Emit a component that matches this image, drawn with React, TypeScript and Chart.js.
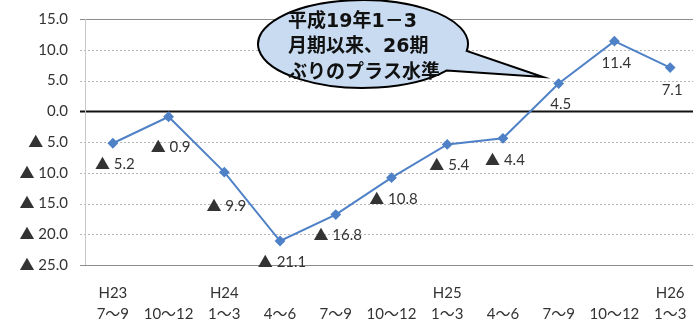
import React, { useEffect, useRef } from "react";
import { Chart, registerables } from "chart.js";

Chart.register(...registerables);

// Quarter labels: [fiscal year marker, months]
const yearMarks = ["H23", "", "H24", "", "", "", "H25", "", "", "", "H26"];
const quarters = ["7～9", "10～12", "1～3", "4～6", "7～9", "10～12", "1～3", "4～6", "7～9", "10～12", "1～3"];
// Year-on-year change (%)
const values = [-5.2, -0.9, -9.9, -21.1, -16.8, -10.8, -5.4, -4.4, 4.5, 11.4, 7.1];
const yTicks = [15, 10, 5, 0, -5, -10, -15, -20, -25];
const calloutLines = ["平成19年1－3", "月期以来、26期", "ぶりのプラス水準"];

// extra drop (px) applied to a few value labels so they clear the line
const labelDrop = [21, 30, 34, 21, 21, 21, 21, 22, 21, 22, 23];

const LATIN = "Lato, 'Noto Sans CJK JP', sans-serif";

const fmt = (v: number) => (v < 0 ? "▲ " + Math.abs(v).toFixed(1) : v.toFixed(1));

const gridPlugin = {
  id: "customGrid",
  beforeDatasetsDraw(chart: any) {
    const { ctx, chartArea } = chart;
    const y = chart.scales.y;
    ctx.save();
    for (const v of yTicks) {
      const py = Math.round(y.getPixelForValue(v)) + 0.5;
      ctx.beginPath();
      if (v === 0) {
        ctx.strokeStyle = "#111";
        ctx.lineWidth = 2;
        ctx.setLineDash([]);
      } else if (v === yTicks[0] || v === yTicks[yTicks.length - 1]) {
        ctx.strokeStyle = "#8c8c8c";
        ctx.lineWidth = 1;
        ctx.setLineDash([]);
      } else {
        ctx.strokeStyle = "#b5b5b5";
        ctx.lineWidth = 1;
        ctx.setLineDash([2, 2]);
      }
      ctx.moveTo(chartArea.left - 5, py);
      ctx.lineTo(chartArea.right, py);
      ctx.stroke();
    }
    ctx.setLineDash([]);
    ctx.strokeStyle = "#c8c8c8";
    ctx.lineWidth = 1;
    ctx.beginPath();
    ctx.moveTo(chartArea.left + 0.5, chartArea.top);
    ctx.lineTo(chartArea.left + 0.5, chartArea.bottom);
    ctx.stroke();
    ctx.restore();
  },
};

const valueLabelPlugin = {
  id: "valueLabels",
  afterDatasetsDraw(chart: any) {
    const { ctx } = chart;
    const meta = chart.getDatasetMeta(0);
    ctx.save();
    ctx.font = `15px ${LATIN}`;
    ctx.fillStyle = "#333";
    ctx.textAlign = "center";
    ctx.textBaseline = "middle";
    meta.data.forEach((pt: any, i: number) => {
      ctx.fillText(fmt(values[i]), pt.x + 2, pt.y + labelDrop[i]);
    });
    ctx.restore();
  },
};

const calloutPlugin = {
  id: "callout",
  afterDraw(chart: any) {
    const { ctx } = chart;
    const cx = 363, cy = 44, rx = 105, ry = 44;
    const tA = 0.646, tB = 0.16;
    ctx.save();
    ctx.beginPath();
    ctx.ellipse(cx, cy, rx, ry, 0, tA, tB + Math.PI * 2, false);
    ctx.lineTo(543, 77);
    ctx.closePath();
    ctx.fillStyle = "#c9dbf1";
    ctx.fill();
    ctx.strokeStyle = "#000";
    ctx.lineWidth = 2;
    ctx.lineJoin = "miter";
    ctx.stroke();
    ctx.fillStyle = "#111";
    ctx.font = "bold 19px 'DejaVu Sans', 'Noto Sans CJK JP', sans-serif";
    ctx.textAlign = "left";
    ctx.textBaseline = "middle";
    calloutLines.forEach((line, i) => {
      ctx.fillText(line, 288, 22 + i * 25.5);
    });
    ctx.restore();
  },
};

export default function App() {
  const ref = useRef<HTMLCanvasElement>(null);

  useEffect(() => {
    if (!ref.current) return;
    const chart = new Chart(ref.current, {
      type: "line",
      data: {
        labels: quarters.map((q, i) => [yearMarks[i], q]),
        datasets: [
          {
            data: values,
            borderColor: "#4f81c7",
            backgroundColor: "#4f81c7",
            borderWidth: 2,
            pointStyle: "rectRot",
            pointRadius: 4,
            pointHoverRadius: 4,
            tension: 0,
          },
        ],
      },
      options: {
        responsive: false,
        animation: false,
        layout: { padding: { top: 19, left: 0, right: 0, bottom: 0 } },
        plugins: { legend: { display: false }, tooltip: { enabled: false } },
        scales: {
          x: {
            offset: true,
            grid: { display: false, drawTicks: false },
            border: { display: false },
            ticks: {
              color: "#333",
              font: { family: LATIN, size: 15, lineHeight: 1.45 },
              padding: 17,
              maxRotation: 0,
              autoSkip: false,
            },
            afterFit(scale: any) {
              scale.height = 56;
              scale.paddingLeft = 0;
              scale.paddingRight = 0;
            },
          },
          y: {
            min: -25,
            max: 15,
            grid: { display: false, drawTicks: false },
            border: { display: false },
            ticks: {
              stepSize: 5,
              color: "#333",
              font: { family: LATIN, size: 15 },
              padding: 17,
              callback: (v: any) => fmt(Number(v)),
            },
            afterFit(scale: any) {
              scale.width = 85;
              scale.paddingTop = 0;
              scale.paddingBottom = 0;
            },
          },
        },
      },
      plugins: [gridPlugin, valueLabelPlugin, calloutPlugin],
    });
    return () => chart.destroy();
  }, []);

  return (
    <div
      style={{
        position: "fixed",
        left: 0,
        top: 0,
        width: 693,
        height: 321,
        overflow: "hidden",
        background: "#fff",
      }}
    >
      <canvas ref={ref} width={704} height={321} style={{ display: "block" }} />
    </div>
  );
}
